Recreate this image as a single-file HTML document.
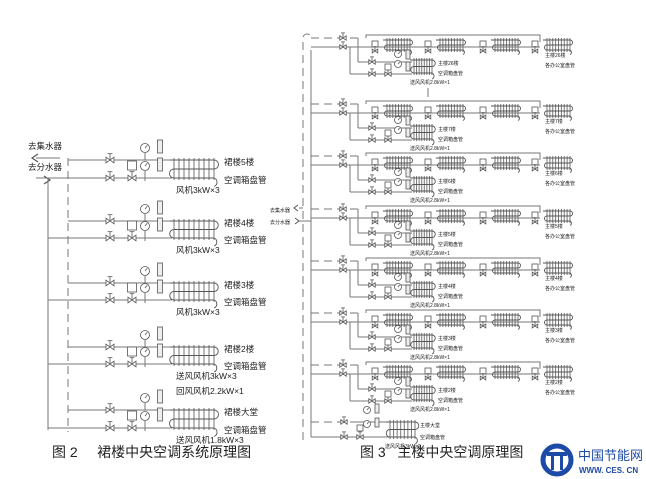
<!DOCTYPE html>
<html><head><meta charset="utf-8"><style>
html,body{margin:0;padding:0;background:#fff;}
svg{display:block;}
text{font-family:"Liberation Sans","Noto Sans CJK SC",sans-serif;fill:#222;}
</style></head><body>
<svg id="s" width="646" height="479" viewBox="0 0 646 479" xmlns="http://www.w3.org/2000/svg"></svg>
<script>
const s=document.getElementById('s');let h='';
const L=(x1,y1,x2,y2,o='')=>h+=`<line x1="${x1}" y1="${y1}" x2="${x2}" y2="${y2}" stroke="#777" stroke-width="1" ${o}/>`;
const T=(x,y,t,fs=8,o='')=>h+=`<text x="${x}" y="${y}" font-size="${fs}" ${o}>${t}</text>`;
const valve=(x,y,sc=1)=>{const a=4*sc;h+=`<path d="M${x-a} ${y-a*0.7}L${x+a} ${y+a*0.7}L${x+a} ${y-a*0.7}L${x-a} ${y+a*0.7}Z" fill="#fff" stroke="#555" stroke-width="0.8"/>`;L(x,y,x,y-a*1.6);L(x-a*0.6,y-a*1.6,x+a*0.6,y-a*1.6);};
const gauge=(x,y,r)=>{h+=`<circle cx="${x}" cy="${y}" r="${r}" fill="#fff" stroke="#555" stroke-width="0.8"/>`;L(x,y,x+r*0.5,y-r*0.6);};
const therm=(x,y,w,hh)=>h+=`<rect x="${x-w/2}" y="${y}" width="${w}" height="${hh}" fill="#eee" stroke="#555" stroke-width="0.8"/>`;
const mbox=(x,y,w)=>{h+=`<rect x="${x-w/2}" y="${y}" width="${w}" height="${w}" fill="#fff" stroke="#555" stroke-width="0.8"/>`;};
const coil=(x1,x2,y1,y2,n)=>{for(let i=0;i<n;i++){const x=x1+i*(x2-x1)/(n-1);L(x,y1-2,x,y2+2,'stroke="#555"');}
 const m=(y1+y2)/2;h+=`<path d="M${x1-4} ${y1}H${x2}a${(m-y1)/2} ${(m-y1)/2} 0 0 1 0 ${m-y1}H${x1}a${(y2-m)/2} ${(y2-m)/2} 0 0 0 0 ${y2-m}H${x2}a${(y2-m)/2} ${(y2-m)/2} 0 0 1 0 ${y2-m-0.5}" fill="none" stroke="#555" stroke-width="0.9"/>`;};
// ---- Fig 2 ----
T(28,149,'去集水器',8.5);T(28,170,'去分水器',8.5);
h+=`<path d="M38 154l-6 4 6 4M44 176l6 4-6 4" fill="none" stroke="#555" stroke-width="1.2"/>`;
L(36,158,60,158);L(36,178,48,178);
L(48,178,48,430);L(68,158,68,432,'stroke-dasharray="8,5"');
const U=[[160,178,'裙楼5楼',['风机3kW×3']],[221,238,'裙楼4楼',['风机3kW×3']],[283,300,'裙楼3楼',['风机3kW×3']],[347,364,'裙楼2楼',['送风风机3kW×3','回风风机2.2kW×1']],[410,428,'裙楼大堂',['送风风机1.8kW×3']]];
U.forEach(([a,b,l1,ls])=>{L(68,a,172,a);L(48,b,172,b);valve(110,a);valve(110,b);valve(132,b);mbox(132,b-17,9);
 gauge(145,a-12,4.5);gauge(145,b-12,4.5);L(145,a-7,145,a);L(145,b-7,145,b+3);therm(160,a-20,5,13);therm(160,b-20,5,13);
 coil(174,214,a,b,9);T(224,a+5,l1,8.5);T(224,b+5,'空调箱盘管',8.5);ls.forEach((t,i)=>T(176,b+15+i*15,t,8.5));});
// ---- Fig 3 ----
h+=`<path d="M303 440V38a4 4 0 0 1 8 0" fill="none" stroke="#777" stroke-dasharray="8,5"/>`;
L(311,50,311,437);
T(270,212,'去集水器',5);T(270,224,'去分水器',5);
h+=`<path d="M298 205l-4 3 4 3M295 218l4 3-4 3" fill="none" stroke="#555" stroke-width="1"/>`;
L(299,208,303,208);L(299,221,311,221);
L(428,88,428,97,'stroke="#222" stroke-width="1.5"');
const R=[[38,'26'],[104,'7'],[156,'6'],[209,'5'],[261,'4'],[313,'3'],[365,'2']];
R.forEach(([y,f])=>{L(311,y,358,y,'stroke-dasharray="8,5"');L(358,y,358,y+24);h+=`<path d="M366 ${y}V${y-3}H540V${y+4}" fill="none" stroke="#777"/>`;
 L(311,y+9,540,y+9);valve(343,y,0.8);valve(343,y+9,0.8);
 [375,428,483,535].forEach(x=>{mbox(x,y+3,6);valve(x,y+13,0.7);coil(x+12,x+35,y+2,y+12,9);});
 T(545,y+19,'主楼'+f+'楼',5);T(545,y+29,'各办公室盘管',5);
 L(358,y+24,412,y+24);L(350,y+9,350,y+36);L(350,y+36,412,y+36);valve(372,y+24,0.8);valve(372,y+36,0.8);valve(388,y+36,0.8);mbox(388,y+26,6);
 gauge(398,y+16,3.5);gauge(398,y+26,3.5);therm(408,y+12,4,9);therm(408,y+24,4,9);
 coil(414,432,y+22,y+35,8);T(438,y+27,'主楼'+f+'楼',5);T(438,y+37,'空调箱盘管',5);T(410,y+46,'送风风机2.8kW×1',5);});
L(311,422,350,422,'stroke-dasharray="8,5"');L(311,437,413,437);L(350,422,413,422);valve(344,422,0.8);valve(344,437,0.8);valve(360,437,0.8);mbox(360,425,6);
gauge(367,410,3.5);gauge(367,424,3.5);therm(377,404,4,9);therm(377,418,4,9);coil(390,415,422,437,8);
T(420,427,'主楼大堂',5);T(420,439,'空调箱盘管',5);T(385,448,'送风风机3kW×2',5);
// captions
T(52,457,'图 2 &#160;&#160;&#160;&#160;裙楼中央空调系统原理图',14);
T(360,457,'图 3 &#160;&#160;主楼中央空调原理图',14);
// logo
h+=`<circle cx="557" cy="460" r="14" fill="none" stroke="#1c4aa6" stroke-width="5"/><rect x="547" y="452" width="20" height="4" fill="#1c4aa6"/><rect x="551" y="456" width="3" height="14" fill="#1c4aa6"/><rect x="560" y="456" width="3" height="14" fill="#1c4aa6"/>`;
T(578,460,'中国节能网',13,'style="fill:#1c4aa6"');T(579,473,'WWW. CES. CN',8,'style="fill:#1c4aa6;font-weight:bold"');
s.innerHTML=h;
</script>
</body></html>
